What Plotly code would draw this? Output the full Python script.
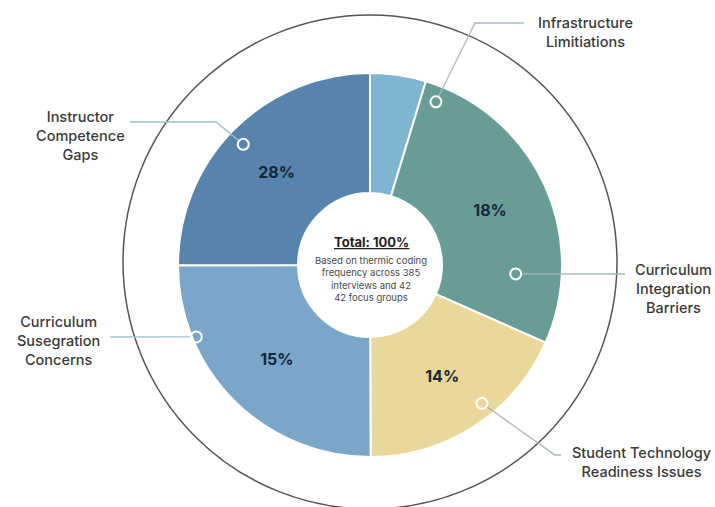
import math
import plotly.graph_objects as go

# ---- data ----
categories = [
    "Infrastructure Limitations",
    "Curriculum Integration Barriers",
    "Student Technology Readiness Issues",
    "Curriculum Susegration Concerns",
    "Instructor Competence Gaps",
]
slice_sizes = [4.7, 26.9, 18.3, 25.0, 25.0]       # angular share measured on the picture
printed_labels = ["", "18%", "14%", "15%", "28%"]  # percentages printed on the slices
label_lines = [
    "Infrastructure<br>Limitiations",
    "Curriculum<br>Integration<br>Barriers",
    "Student Technology<br>Readiness Issues",
    "Curriculum<br>Susegration<br>Concerns",
    "Instructor<br>Competence<br>Gaps",
]
center_title = "Total: 100%"
center_note = "Based on thermic coding<br>frequency across 385<br>interviews and 42<br>42 focus groups"

# ---- styles ----
W, H = 715, 507
colors = ["#7EB5D1", "#689C96", "#E9D899", "#79A6C9", "#5684AD"]
CX, CY, R = 370, 265, 192
HOLE = 0.375

fig = go.Figure()
fig.add_trace(go.Pie(
    labels=categories, values=slice_sizes, text=printed_labels,
    textinfo="text", textposition="inside", insidetextorientation="horizontal",
    textfont=dict(family="Inter", size=16, color="#15283B", weight="bold"),
    marker=dict(colors=colors, line=dict(color="white", width=2)),
    sort=False, direction="clockwise", rotation=0, hole=HOLE,
    showlegend=False, hoverinfo="label+text",
    domain=dict(x=[(CX - R) / W, (CX + R) / W], y=[(H - CY - R) / H, (H - CY + R) / H]),
))

# callout geometry (angle clockwise from 12 o'clock, radius px)
call_angle = [22, 93.5, 141, 247.5, 313.6]
call_rad = [176, 146, 178, 188, 175]
bends = [(475, 23), None, (555, 455), None, (216, 122)]
ends = [(524, 23), (625, 274), (561, 455), (110, 337), (130, 122)]
label_pos = [(585, 32), (673, 288), (641, 462), (58, 340), (80, 135)]
line_cols = ["#A9BDC1", "#A9B6BA", "#A9B6BA", "#A3C5CD", "#9DC2CB"]

shapes = []
shapes.append(dict(type="circle", xref="x", yref="y", x0=CX - 247, x1=CX + 247,
                   y0=15, y1=509, line=dict(color="#555555", width=1.5), layer="below"))
for i in range(len(categories)):
    a = math.radians(call_angle[i])
    mx = CX + call_rad[i] * math.sin(a)
    my = CY - call_rad[i] * math.cos(a)
    pts = [(mx, my)]
    if bends[i]:
        pts.append(bends[i])
    pts.append(ends[i])
    dx, dy = pts[1][0] - mx, pts[1][1] - my
    d = math.hypot(dx, dy)
    sx, sy = mx + dx / d * 6, my + dy / d * 6
    path = f"M {sx},{sy} " + " ".join(f"L {x},{y}" for x, y in pts[1:])
    shapes.append(dict(type="path", xref="x", yref="y", path=path,
                       line=dict(color=line_cols[i], width=1.3), layer="above"))
    shapes.append(dict(type="circle", xref="x", yref="y", x0=mx - 5.5, x1=mx + 5.5,
                       y0=my - 5.5, y1=my + 5.5, line=dict(color="white", width=2),
                       fillcolor="rgba(0,0,0,0)", layer="above"))

annotations = []
for i in range(len(categories)):
    annotations.append(dict(x=label_pos[i][0], y=label_pos[i][1], xref="x", yref="y",
                            text=label_lines[i], showarrow=False, align="center",
                            font=dict(family="Inter", size=14.5, color="#3A3A3A", weight=500),
                            yanchor="middle", xanchor="center"))
annotations.append(dict(x=CX + 1, y=242, xref="x", yref="y", text=f"<b><u>{center_title}</u></b>",
                        showarrow=False, font=dict(family="Inter", size=13, color="#222222")))
annotations.append(dict(x=CX + 1, y=279, xref="x", yref="y", text=center_note,
                        showarrow=False, font=dict(family="Inter", size=9.5, color="#4A4A4A")))

fig.update_layout(
    width=W, height=H, margin=dict(l=0, r=0, t=0, b=0),
    paper_bgcolor="white", plot_bgcolor="white",
    xaxis=dict(range=[0, W], visible=False, fixedrange=True),
    yaxis=dict(range=[H, 0], visible=False, fixedrange=True),
    shapes=shapes, annotations=annotations,
)
fig.write_html("out.html")
